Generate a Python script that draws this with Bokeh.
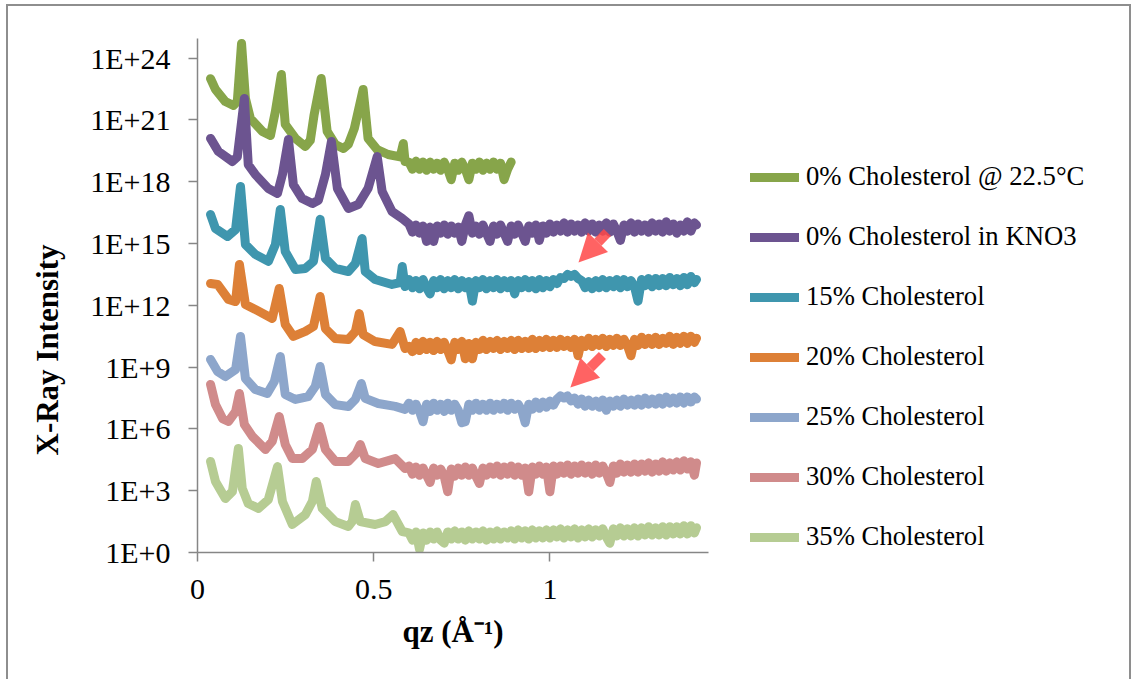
import numpy as np
from bokeh.plotting import figure
from bokeh.models import (Range1d, FixedTicker, CustomJSTickFormatter, Legend, LegendItem,
                          Title, Arrow, NormalHead)
from bokeh.embed import file_html
from bokeh.resources import INLINE

# ---------------- data (log10 of X-ray intensity) ----------------
series_names = ["0% Cholesterol @ 22.5°C", "0% Cholesterol in KNO3", "15% Cholesterol",
                "20% Cholesterol", "25% Cholesterol", "30% Cholesterol", "35% Cholesterol"]
colors = ["#87A54A", "#6C5490", "#3F96AE", "#DD8037", "#8DA6CB", "#D08B8B", "#B6CC93"]

# low-q (Bragg peak) region: qz and log10(I)
g0_q = [0.037, 0.051, 0.079, 0.102, 0.113, 0.125, 0.136, 0.150, 0.184, 0.207, 0.221, 0.238, 0.249,
        0.278, 0.306, 0.320, 0.331, 0.351, 0.368, 0.391, 0.414, 0.428, 0.445, 0.470, 0.484, 0.510,
        0.541, 0.575, 0.584, 0.589]
g0_L = [23.0, 22.48, 21.89, 21.70, 21.9, 24.71, 22.04, 21.07, 20.44, 20.24, 21.41, 23.20, 20.78,
        20.10, 19.71, 20.0, 21.26, 23.01, 20.44, 19.81, 19.61, 19.81, 20.58, 22.48, 20.10, 19.56,
        19.32, 19.2, 19.85, 18.98]

kno3_q = [0.037, 0.059, 0.099, 0.113, 0.133, 0.144, 0.164, 0.201, 0.227, 0.241, 0.258, 0.272,
          0.297, 0.326, 0.343, 0.363, 0.380, 0.397, 0.428, 0.456, 0.484, 0.510, 0.524, 0.552, 0.581]
kno3_L = [20.10, 19.47, 18.98, 19.2, 22.04, 18.83, 18.35, 17.67, 17.43, 18.35, 20.05, 17.86,
          17.18, 16.94, 17.1, 18.35, 19.95, 17.67, 16.70, 16.89, 17.67, 19.22, 17.52, 16.55, 16.21]

c15_q = [0.037, 0.051, 0.085, 0.108, 0.122, 0.136, 0.164, 0.201, 0.221, 0.235, 0.249, 0.278, 0.306,
         0.329, 0.348, 0.363, 0.391, 0.428, 0.448, 0.467, 0.476, 0.504, 0.552, 0.575, 0.581, 0.589]
c15_L = [16.41, 15.73, 15.34, 15.68, 17.77, 14.95, 14.47, 14.13, 14.95, 16.65, 14.61, 13.74, 13.79,
         14.13, 16.17, 14.27, 13.79, 13.64, 14.03, 15.24, 13.64, 13.25, 13.01, 13.1, 13.88, 12.91]

c20_q = [0.037, 0.057, 0.088, 0.108, 0.119, 0.136, 0.164, 0.212, 0.232, 0.249, 0.272, 0.306, 0.329,
         0.348, 0.363, 0.391, 0.428, 0.448, 0.459, 0.470, 0.504, 0.552, 0.575, 0.589]
c20_L = [13.06, 13.01, 12.28, 12.18, 13.98, 12.04, 11.80, 11.36, 12.82, 11.07, 10.49, 10.73, 10.97,
         12.43, 10.87, 10.39, 10.34, 10.73, 11.60, 10.58, 10.24, 10.10, 10.73, 9.9]

c25_q = [0.037, 0.057, 0.079, 0.108, 0.122, 0.136, 0.164, 0.198, 0.218, 0.235, 0.249, 0.278, 0.314,
         0.334, 0.348, 0.363, 0.391, 0.428, 0.448, 0.465, 0.476, 0.513, 0.561, 0.589]
c25_L = [9.37, 8.79, 8.54, 8.88, 10.49, 8.45, 7.91, 7.72, 8.30, 9.51, 7.67, 7.43, 7.57,
         8.06, 9.03, 7.67, 7.18, 7.09, 7.43, 8.20, 7.48, 7.23, 7.09, 6.95]

c30_q = [0.037, 0.051, 0.071, 0.088, 0.108, 0.119, 0.133, 0.156, 0.193, 0.212, 0.232, 0.249, 0.269,
         0.297, 0.326, 0.346, 0.363, 0.391, 0.428, 0.450, 0.462, 0.476, 0.513, 0.561, 0.589]
c30_L = [8.16, 7.18, 6.50, 6.36, 6.84, 7.72, 6.21, 5.63, 5.00, 5.39, 6.60, 5.24, 4.56,
         4.56, 5.00, 6.12, 5.00, 4.42, 4.42, 4.81, 5.24, 4.56, 4.32, 4.56, 4.08]

c35_q = [0.037, 0.051, 0.079, 0.099, 0.116, 0.127, 0.144, 0.173, 0.201, 0.227, 0.241, 0.269, 0.306,
         0.326, 0.337, 0.354, 0.391, 0.428, 0.439, 0.448, 0.462, 0.504, 0.533, 0.555, 0.581]
c35_L = [4.42, 3.45, 2.62, 2.96, 5.05, 3.11, 2.38, 2.14, 2.57, 4.17, 2.48, 1.36, 1.84,
         2.48, 3.45, 2.14, 1.50, 1.26, 1.50, 2.33, 1.50, 1.36, 1.50, 1.84, 1.02]

# high-q (noise floor) region, common qz grid
floor_q = [0.60, 0.61, 0.62, 0.63, 0.64, 0.65, 0.66, 0.67, 0.68, 0.69,
           0.70, 0.71, 0.72, 0.73, 0.74, 0.75, 0.76, 0.77, 0.78, 0.79,
           0.80, 0.81, 0.82, 0.83, 0.84, 0.85, 0.86, 0.87, 0.88, 0.89,
           0.90, 0.91, 0.92, 0.93, 0.94, 0.95, 0.96, 0.97, 0.98, 0.99,
           1.00, 1.01, 1.02, 1.03, 1.04, 1.05, 1.06, 1.07, 1.08, 1.09,
           1.10, 1.11, 1.12, 1.13, 1.14, 1.15, 1.16, 1.17, 1.18, 1.19,
           1.20, 1.21, 1.22, 1.23, 1.24, 1.25, 1.26, 1.27, 1.28, 1.29,
           1.30, 1.31, 1.32, 1.33, 1.34, 1.35, 1.36, 1.37, 1.38, 1.39,
           1.40, 1.41, 1.416]

g0_floor = [18.95, 18.6, 19.0, 18.6, 18.95, 18.55, 18.95, 18.6, 18.9, 18.55,
            18.95, 18.6, 18.1, 18.9, 18.55, 18.95, 18.6, 18.1, 18.9, 18.6,
            18.95, 18.55, 18.9, 18.6, 18.95, 18.6, 18.9, 18.1, 18.6, 18.95]

kno3_floor = [15.95, 15.55, 15.9, 15.5, 15.85, 15.1, 15.8, 15.1, 15.85, 15.5,
              15.9, 15.45, 15.85, 15.5, 15.8, 15.1, 15.9, 16.35, 15.5, 15.85,
              15.45, 15.9, 15.5, 15.1, 15.85, 15.45, 15.9, 15.5, 15.1, 15.85,
              15.45, 15.9, 15.5, 15.1, 15.85, 15.5, 15.9, 15.15, 15.85, 15.5,
              15.95, 15.55, 15.9, 15.6, 16.0, 15.55, 15.95, 15.6, 15.9, 15.55,
              16.0, 15.6, 15.95, 15.55, 15.9, 15.6, 16.0, 15.55, 15.95, 15.6,
              15.15, 15.9, 15.6, 16.0, 15.55, 15.95, 15.6, 15.9, 15.55, 16.0,
              15.6, 15.95, 15.55, 16.05, 15.6, 15.95, 15.5, 15.9, 15.6, 16.05,
              15.6, 16.0, 15.9]

c15_floor = [13.25, 12.85, 13.2, 12.8, 13.25, 12.85, 12.55, 13.2, 12.85, 13.25,
             12.8, 13.2, 12.85, 13.25, 12.8, 13.2, 12.85, 13.15, 12.2, 13.2,
             12.85, 13.25, 12.8, 13.2, 12.85, 13.25, 12.8, 13.2, 12.85, 13.2,
             12.55, 13.2, 12.85, 13.25, 12.85, 13.2, 12.8, 13.25, 12.85, 13.2,
             12.9, 13.25, 13.05, 13.35, 13.3, 13.5, 13.4, 13.5, 13.3, 13.2,
             12.85, 13.15, 12.8, 13.2, 12.85, 13.25, 12.85, 13.2, 12.9, 13.25,
             12.85, 13.25, 12.9, 13.2, 12.9, 12.2, 13.25, 12.95, 13.3, 12.9,
             13.3, 12.95, 13.3, 12.95, 13.35, 13.0, 13.3, 12.95, 13.35, 13.0,
             13.4, 13.1, 13.25]

c20_floor = [10.0, 9.75, 10.2, 9.8, 10.25, 9.85, 10.2, 9.8, 10.25, 9.85,
             10.2, 9.8, 9.35, 10.2, 9.85, 10.25, 9.4, 10.15, 9.4, 10.2,
             9.85, 10.3, 9.85, 10.25, 9.9, 10.3, 9.85, 10.25, 9.9, 10.3,
             9.85, 10.3, 9.9, 10.25, 9.9, 10.35, 9.9, 10.3, 9.95, 10.35,
             9.95, 10.3, 9.95, 10.35, 10.0, 10.3, 9.95, 10.35, 9.55, 10.3,
             10.0, 10.4, 10.0, 10.35, 10.05, 10.4, 10.0, 10.35, 10.05, 10.4,
             10.05, 10.35, 10.05, 9.55, 10.35, 10.05, 10.45, 10.1, 10.4, 10.1,
             10.45, 10.1, 10.4, 10.15, 10.5, 10.1, 10.45, 10.15, 10.5, 10.15,
             10.5, 10.2, 10.4]

c25_floor = [7.25, 6.9, 7.2, 6.85, 6.35, 7.2, 6.85, 7.25, 6.9, 7.2,
             6.85, 7.25, 6.9, 7.2, 6.9, 6.3, 6.35, 7.2, 6.9, 7.25,
             6.9, 7.2, 6.9, 7.25, 6.9, 7.2, 6.95, 7.25, 6.9, 7.25,
             6.95, 7.2, 6.9, 6.3, 7.2, 6.95, 7.3, 7.0, 7.3, 7.05,
             7.35, 7.15, 7.45, 7.6, 7.5, 7.6, 7.35, 7.5, 7.2, 7.45,
             7.1, 7.4, 7.1, 7.35, 7.05, 7.4, 6.9, 7.35, 7.1, 7.4,
             7.1, 7.45, 7.15, 7.4, 7.15, 7.45, 7.15, 7.5, 7.2, 7.45,
             7.2, 7.5, 7.2, 7.55, 7.25, 7.5, 7.25, 7.55, 7.25, 7.55,
             7.3, 7.55, 7.45]

c30_floor = [4.2, 3.8, 4.15, 3.75, 4.1, 3.75, 3.4, 4.1, 3.75, 4.05,
             3.7, 2.95, 4.05, 3.7, 4.1, 3.75, 4.15, 3.75, 4.1, 3.7,
             3.35, 4.1, 3.75, 4.15, 3.8, 4.2, 3.75, 4.15, 3.8, 4.2,
             3.75, 4.15, 3.75, 4.1, 2.95, 4.15, 3.8, 4.2, 3.8, 4.15,
             2.95, 4.2, 3.8, 4.2, 3.85, 4.25, 3.8, 4.2, 3.85, 4.25,
             3.85, 4.2, 3.8, 4.25, 3.85, 4.2, 3.85, 3.4, 4.2, 3.85,
             4.3, 3.9, 4.25, 3.9, 4.3, 3.9, 4.3, 3.95, 4.35, 3.9,
             4.3, 3.95, 4.4, 3.95, 4.35, 4.0, 4.4, 4.0, 4.45, 4.05,
             4.4, 3.75, 4.35]

c35_floor = [0.95, 0.6, 1.0, 0.15, 0.95, 0.6, 1.0, 0.65, 1.0, 0.6,
             0.45, 1.0, 0.65, 1.05, 0.65, 1.0, 0.6, 1.05, 0.65, 1.0,
             0.65, 1.05, 0.6, 1.0, 0.65, 1.05, 0.65, 1.0, 0.7, 1.05,
             0.65, 1.1, 0.7, 1.05, 0.65, 1.1, 0.7, 1.05, 0.7, 1.1,
             0.7, 1.1, 0.75, 1.15, 0.7, 1.1, 0.75, 1.15, 0.7, 1.1,
             0.75, 1.15, 0.75, 1.1, 0.8, 1.15, 0.75, 0.45, 1.15, 0.8,
             1.2, 0.8, 1.15, 0.8, 1.2, 0.8, 1.2, 0.85, 1.25, 0.85,
             1.2, 0.85, 1.25, 0.85, 1.25, 0.9, 1.25, 0.9, 1.3, 0.9,
             1.3, 0.95, 1.2]

# arrows (qz, log10 I): tail -> head
arrow1 = [1.163, 15.53, 1.081, 14.08]
arrow2 = [1.149, 9.56, 1.058, 8.01]

y_ticks_exp = [0, 3, 6, 9, 12, 15, 18, 21, 24]
x_ticks = [0, 0.5, 1]
X_AXIS_MAX = 1.45
Y_TOP_EXP = 24.95

# ---------------- assemble ----------------
series = [
    (g0_q + floor_q[:len(g0_floor)], g0_L + g0_floor),
    (kno3_q + floor_q, kno3_L + kno3_floor),
    (c15_q + floor_q, c15_L + c15_floor),
    (c20_q + floor_q, c20_L + c20_floor),
    (c25_q + floor_q, c25_L + c25_floor),
    (c30_q + floor_q, c30_L + c30_floor),
    (c35_q + floor_q, c35_L + c35_floor),
]

FONT = "Liberation Serif"
AX = "#868686"

# plot frame extends under the legend area; the x axis itself stops at X_AXIS_MAX
FRAME_W = 1125 - 189 - 10
x_end = X_AXIS_MAX * FRAME_W / 511.0

p = figure(width=1125, height=675, output_backend="svg", toolbar_location=None,
           y_axis_type="log", x_range=Range1d(0, x_end), y_range=Range1d(1, 10 ** Y_TOP_EXP),
           min_border_left=189, min_border_right=10, min_border_top=32, min_border_bottom=129)
p.styles = {"margin-left": "6px", "margin-top": "4px",
            "border-left": "2px solid #8e8e8e", "border-top": "2px solid #8e8e8e",
            "border-right": "2px solid #8e8e8e"}
p.outline_line_color = None
p.xgrid.visible = False
p.ygrid.visible = False
p.background_fill_color = "white"
p.border_fill_color = "white"

for ax in (p.xaxis[0], p.yaxis[0]):
    ax.axis_line_color = AX
    ax.axis_line_width = 1.5
    ax.major_tick_line_color = AX
    ax.major_tick_line_width = 1.5
    ax.major_tick_out = 9
    ax.major_tick_in = 0
    ax.minor_tick_line_color = None
    ax.major_label_text_font = FONT
    ax.major_label_text_font_size = "30px"
    ax.major_label_text_color = "black"

p.xaxis.bounds = (0, X_AXIS_MAX)
p.xaxis.ticker = FixedTicker(ticks=x_ticks)
p.xaxis.major_label_standoff = 18
p.yaxis.ticker = FixedTicker(ticks=[10.0 ** e for e in y_ticks_exp])
p.yaxis.formatter = CustomJSTickFormatter(code="return '1E+' + Math.round(Math.log10(tick));")
p.yaxis.major_label_standoff = 18

# axis titles as panel titles so they can be offset along the axes like in the reference
xtitle = Title(text="qz (Å\u207b\u00b9)", align="left", offset=205, vertical_align="top",
               standoff=24, text_font=FONT, text_font_style="bold", text_font_size="31px",
               text_color="black")
p.add_layout(xtitle, "below")
ytitle = Title(text="X-Ray Intensity", align="left", offset=97, vertical_align="top",
               standoff=42, text_font=FONT, text_font_style="bold", text_font_size="31px",
               text_color="black")
p.add_layout(ytitle, "left")

items = []
for name, col, (q, L) in zip(series_names, colors, series):
    r = p.line(q, [10.0 ** v for v in L], line_color=col, line_width=9,
               line_join="round", line_cap="round")
    items.append(LegendItem(label=name, renderers=[r]))

for a in (arrow1, arrow2):
    head = NormalHead(size=28, fill_color="#FF4848", line_color="#FF4848",
                      fill_alpha=0.85, line_alpha=0.0)
    p.add_layout(Arrow(end=head, x_start=a[0], y_start=10 ** a[1], x_end=a[2], y_end=10 ** a[3],
                       line_color="#FF4848", line_width=10, line_alpha=0.85, line_cap="butt"))

legend = Legend(items=items, location=(553, 0), orientation="vertical",
                glyph_width=49, glyph_height=16, label_height=16, spacing=29,
                label_standoff=7, padding=0, margin=0, border_line_color=None,
                background_fill_alpha=0, label_text_font=FONT,
                label_text_font_size="26.7px", label_text_color="black",
                label_text_baseline="middle")
p.add_layout(legend)

open("out.html", "w").write(file_html(p, INLINE))
